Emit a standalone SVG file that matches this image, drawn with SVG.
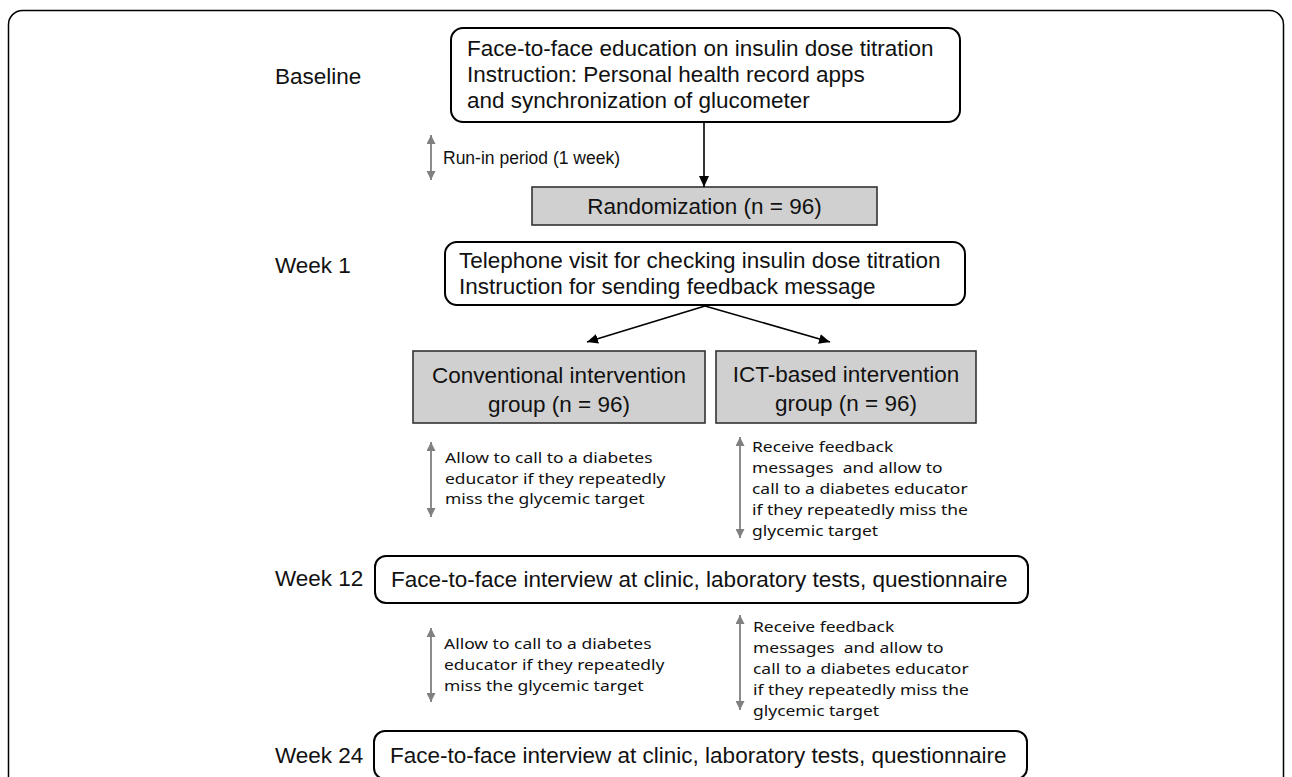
<svg xmlns="http://www.w3.org/2000/svg" width="1292" height="777" viewBox="0 0 1292 777">
<style>
.box{fill:#fff;stroke:#000;stroke-width:2}
.gbox{fill:#d0d0d0;stroke:#333;stroke-width:1.6}
.t{font-family:"Liberation Sans",Arial,sans-serif;font-size:22.5px;fill:#111}
.s{font-family:"Liberation Sans",Arial,sans-serif;font-size:17.5px;fill:#111}
.k{font-family:"Noto Sans","Open Sans",sans-serif;font-size:14.8px;fill:#111;white-space:pre}
.blk{stroke:#000;stroke-width:1.6;fill:none;marker-end:url(#ab)}
.gry{stroke:#808080;stroke-width:1.8;fill:none;marker-start:url(#ag);marker-end:url(#ag)}
</style>
<defs>
<marker id="ab" markerUnits="userSpaceOnUse" markerWidth="12" markerHeight="10" refX="11" refY="5" orient="auto"><path d="M0,0 L11,5 L0,10 z" fill="#000"/></marker>
<marker id="ag" markerUnits="userSpaceOnUse" markerWidth="10" markerHeight="9" refX="9" refY="4.5" orient="auto-start-reverse"><path d="M0,0 L9,4.5 L0,9 z" fill="#808080"/></marker>
</defs>
<rect x="0" y="0" width="1292" height="777" fill="#fff"/>
<rect id="frame" x="8.5" y="10.5" width="1275" height="800" rx="14" fill="none" stroke="#000" stroke-width="1.5"/>

<g id="labels">
<text class="t" x="275" y="84">Baseline</text>
<text class="t" x="275" y="273">Week 1</text>
<text class="t" x="275" y="586">Week 12</text>
<text class="t" x="275" y="763">Week 24</text>
</g>

<g id="baseline-box">
<rect class="box" x="451" y="28" width="509" height="94" rx="12"/>
<text class="t" x="467" y="56">Face-to-face education on insulin dose titration<tspan x="467" dy="26">Instruction: Personal health record apps</tspan><tspan x="467" dy="26">and synchronization of glucometer</tspan></text>
</g>

<g id="randomization">
<rect class="gbox" x="532" y="187" width="345" height="38"/>
<text class="t" x="704.5" y="214" text-anchor="middle">Randomization (n = 96)</text>
</g>

<g id="telephone">
<rect class="box" x="445" y="242" width="520" height="63" rx="12"/>
<text class="t" x="459" y="268">Telephone visit for checking insulin dose titration<tspan x="459" dy="26">Instruction for sending feedback message</tspan></text>
</g>

<g id="conventional">
<rect class="gbox" x="413" y="351" width="292" height="72"/>
<text class="t" x="559" y="383" text-anchor="middle">Conventional intervention<tspan x="559" dy="29">group (n = 96)</tspan></text>
</g>

<g id="ict">
<rect class="gbox" x="716" y="351" width="260" height="72"/>
<text class="t" x="846" y="382" text-anchor="middle">ICT-based intervention<tspan x="846" dy="29">group (n = 96)</tspan></text>
</g>

<g id="week12">
<rect class="box" x="375" y="556" width="653" height="47" rx="11"/>
<text class="t" x="391" y="587">Face-to-face interview at clinic, laboratory tests, questionnaire</text>
</g>

<g id="week24">
<rect class="box" x="374" y="731" width="653" height="48" rx="11"/>
<text class="t" x="390" y="763">Face-to-face interview at clinic, laboratory tests, questionnaire</text>
</g>

<g id="notes">
<text class="s" x="443" y="164">Run-in period (1 week)</text>
<g transform="translate(445 0) scale(1.18 1)">
<text class="k" x="0" y="463">Allow to call to a diabetes<tspan x="0" dy="20.6">educator if they repeatedly</tspan><tspan x="0" dy="20.6">miss the glycemic target</tspan></text>
</g>
<g transform="translate(752 0) scale(1.18 1)">
<text class="k" x="0" y="452">Receive feedback<tspan x="0" dy="21">messages  and allow to</tspan><tspan x="0" dy="21">call to a diabetes educator</tspan><tspan x="0" dy="21">if they repeatedly miss the</tspan><tspan x="0" dy="21">glycemic target</tspan></text>
</g>
<g transform="translate(444 0) scale(1.18 1)">
<text class="k" x="0" y="649">Allow to call to a diabetes<tspan x="0" dy="21">educator if they repeatedly</tspan><tspan x="0" dy="21">miss the glycemic target</tspan></text>
</g>
<g transform="translate(753 0) scale(1.18 1)">
<text class="k" x="0" y="632">Receive feedback<tspan x="0" dy="21">messages  and allow to</tspan><tspan x="0" dy="21">call to a diabetes educator</tspan><tspan x="0" dy="21">if they repeatedly miss the</tspan><tspan x="0" dy="21">glycemic target</tspan></text>
</g>
</g>

<g id="connectors">
<line class="blk" x1="704" y1="122" x2="704" y2="187"/>
<line class="blk" x1="705" y1="306" x2="587" y2="342"/>
<line class="blk" x1="705" y1="306" x2="830" y2="342"/>
<line class="gry" x1="431" y1="135" x2="431" y2="180"/>
<line class="gry" x1="431" y1="442" x2="431" y2="517"/>
<line class="gry" x1="740" y1="437" x2="740" y2="538"/>
<line class="gry" x1="431" y1="628" x2="431" y2="702"/>
<line class="gry" x1="740" y1="615" x2="740" y2="710"/>
</g>
</svg>
